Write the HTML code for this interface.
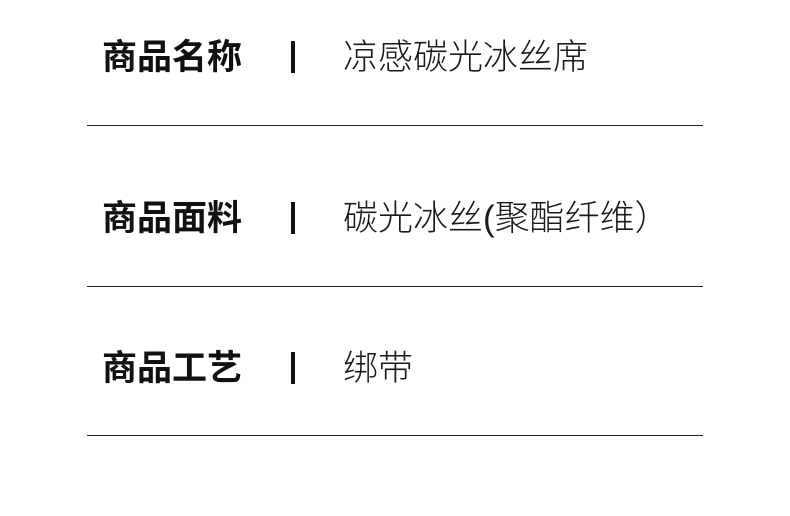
<!DOCTYPE html>
<html><head><meta charset="utf-8"><style>
html,body{margin:0;padding:0;background:#fff;}
body{width:790px;height:516px;position:relative;overflow:hidden;font-family:"Liberation Sans","Noto Sans CJK SC",sans-serif;color:#111;}
.l{position:absolute;left:102px;font-size:35px;line-height:35px;font-weight:bold;white-space:nowrap;}
.v{position:absolute;left:343px;font-size:35px;line-height:35px;font-weight:300;white-space:nowrap;color:#1a1a1a;}
.b{position:absolute;left:291px;width:4px;height:32px;background:#111;}
.h{position:absolute;left:87px;width:616px;height:1px;background:#222;}
</style></head><body>
<div class="l" style="top:40px">商品名称</div><div class="b" style="top:41px"></div><div class="v" style="top:40px">凉感碳光冰丝席</div>
<div class="h" style="top:125px"></div>
<div class="l" style="top:201px">商品面料</div><div class="b" style="top:202px"></div><div class="v" style="top:201px">碳光冰丝(聚酯纤维）</div>
<div class="h" style="top:286px"></div>
<div class="l" style="top:351px">商品工艺</div><div class="b" style="top:352px"></div><div class="v" style="top:351px">绑带</div>
<div class="h" style="top:435px"></div>
</body></html>
